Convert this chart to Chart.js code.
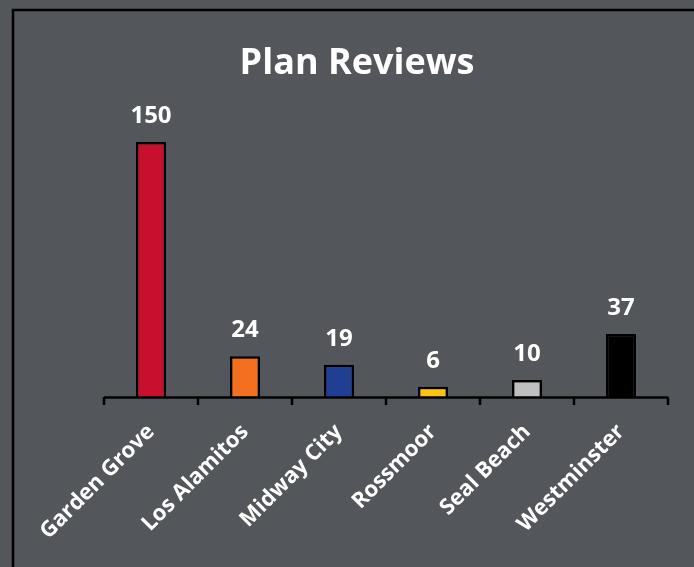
<!DOCTYPE html>
<html>
<head>
<meta charset="utf-8">
<script src="https://cdn.jsdelivr.net/npm/chart.js@4.4.0/dist/chart.umd.min.js"></script>
<style>
  html, body { margin: 0; padding: 0; background: #53565a; }
  #wrap { width: 694px; height: 567px; position: relative; }
</style>
</head>
<body>
<div id="wrap"><canvas id="c" width="694" height="567"></canvas></div>
<script>
const categories = ["Garden Grove", "Los Alamitos", "Midway City", "Rossmoor", "Seal Beach", "Westminster"];
const reviews = [150, 24, 19, 6, 10, 37];
const barColors = ["#c8102e", "#f37021", "#213f92", "#ffc20e", "#bfbfbf", "#000000"];
const chartTitle = "Plan Reviews";

const bgPlugin = {
  id: 'bg',
  beforeDraw(chart) {
    const ctx = chart.ctx;
    ctx.save();
    ctx.fillStyle = '#53565a';
    ctx.fillRect(0, 0, chart.width, chart.height);
    ctx.strokeStyle = '#000000';
    ctx.lineWidth = 2.5;
    ctx.strokeRect(13, 10, chart.width + 20, chart.height + 20);
    ctx.restore();
  }
};

const labelPlugin = {
  id: 'valueLabels',
  afterDatasetsDraw(chart) {
    const ctx = chart.ctx;
    const meta = chart.getDatasetMeta(0);
    ctx.save();
    ctx.fillStyle = '#ffffff';
    ctx.font = 'bold 24px "Open Sans", sans-serif';
    ctx.textAlign = 'center';
    ctx.textBaseline = 'middle';
    meta.data.forEach((bar, i) => {
      ctx.fillText(String(reviews[i]), bar.x, bar.y - 26);
    });
    ctx.restore();
  }
};

const axisPlugin = {
  id: 'axisLine',
  afterDatasetsDraw(chart) {
    const ctx = chart.ctx;
    const a = chart.chartArea;
    ctx.save();
    ctx.strokeStyle = '#000000';
    ctx.lineWidth = 2.5;
    ctx.beginPath();
    ctx.moveTo(a.left, a.bottom + 0.5);
    ctx.lineTo(a.right, a.bottom + 0.5);
    const n = categories.length;
    for (let i = 0; i <= n; i++) {
      const px = a.left + (a.right - a.left) * i / n;
      ctx.moveTo(px, a.bottom);
      ctx.lineTo(px, a.bottom + 8);
    }
    ctx.stroke();
    ctx.restore();
  }
};

new Chart(document.getElementById('c'), {
  type: 'bar',
  data: {
    labels: categories,
    datasets: [{
      data: reviews,
      backgroundColor: barColors,
      borderColor: '#000000',
      borderWidth: 2.5,
      borderSkipped: 'bottom',
      categoryPercentage: 1,
      barPercentage: 0.32
    }]
  },
  options: {
    responsive: false,
    animation: false,
    devicePixelRatio: 1,
    layout: { padding: { left: 46, right: 26, top: 0, bottom: 0 } },
    plugins: {
      legend: { display: false },
      tooltip: { enabled: false },
      title: {
        display: true,
        text: chartTitle,
        color: '#ffffff',
        font: { family: '"Open Sans", sans-serif', size: 36, weight: 'bold', lineHeight: 1.2 },
        padding: { top: 42.4, bottom: 5.4 }
      }
    },
    scales: {
      x: {
        grid: { display: false, drawTicks: false },
        border: { display: false },
        ticks: {
          color: '#ffffff',
          font: { family: '"Open Sans", sans-serif', size: 22, weight: 'bold' },
          minRotation: 45,
          maxRotation: 45,
          padding: 22,
          autoSkip: false
        },
        afterFit(scale) { scale.height = 170; }
      },
      y: {
        display: true,
        min: 0,
        max: 180,
        grid: { display: false, drawTicks: false },
        border: { display: false },
        ticks: { display: false },
        afterFit(scale) { scale.width = 58; }
      }
    }
  },
  plugins: [bgPlugin, labelPlugin, axisPlugin]
});
</script>
</body>
</html>
